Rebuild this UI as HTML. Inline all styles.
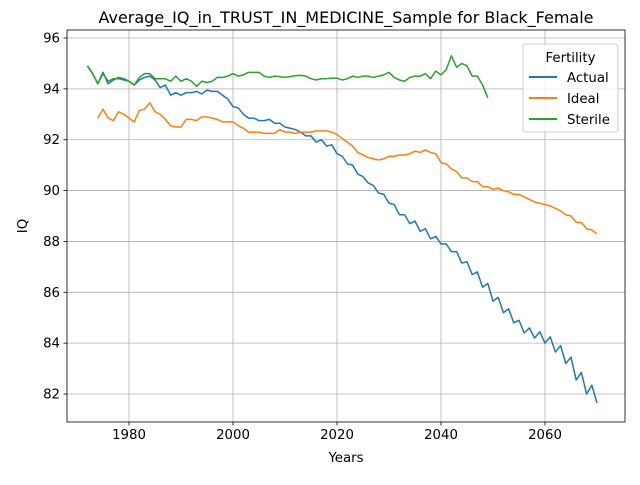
<!DOCTYPE html>
<html><head><meta charset="utf-8"><style>
body{margin:0;background:#fff;}
svg{font-family:"DejaVu Sans","Liberation Sans",sans-serif;}
</style></head><body>
<svg id="chart" width="640" height="480" xmlns="http://www.w3.org/2000/svg"></svg>
<script>
const xTicks=[1980,2000,2020,2040,2060];
const yTicks=[82,84,86,88,90,92,94,96];
const actualStart=1972;
const actual=[94.9,94.6,94.2,94.65,94.2,94.35,94.45,94.4,94.3,94.15,
94.35,94.45,94.5,94.35,94.05,94.15,93.75,93.85,93.75,93.85,
93.85,93.9,93.8,93.95,93.9,93.9,93.75,93.6,93.3,93.25,
93.0,92.85,92.85,92.75,92.75,92.8,92.65,92.65,92.5,92.45,
92.4,92.3,92.15,92.15,91.9,92.0,91.75,91.8,91.45,91.35,
91.05,91.0,90.65,90.55,90.3,90.2,89.9,89.85,89.5,89.45,
89.05,89.05,88.7,88.8,88.4,88.5,88.1,88.2,87.9,87.9,
87.6,87.6,87.15,87.2,86.7,86.8,86.2,86.35,85.65,85.8,
85.2,85.35,84.8,84.9,84.4,84.6,84.2,84.45,84.0,84.25,
83.65,83.9,83.2,83.45,82.55,82.85,82.0,82.35,81.65];
const idealStart=1974;
const ideal=[92.85,93.2,92.85,92.75,93.1,93.0,92.85,92.7,93.15,93.2,
93.45,93.1,93.0,92.8,92.55,92.5,92.5,92.8,92.8,92.75,
92.9,92.9,92.85,92.8,92.7,92.7,92.7,92.55,92.45,92.3,
92.3,92.3,92.25,92.25,92.25,92.4,92.3,92.3,92.25,92.3,
92.3,92.3,92.35,92.35,92.35,92.3,92.2,92.05,91.9,91.75,
91.5,91.4,91.3,91.25,91.2,91.25,91.35,91.35,91.4,91.4,
91.45,91.55,91.5,91.6,91.5,91.45,91.1,91.05,90.85,90.75,
90.5,90.5,90.35,90.35,90.15,90.15,90.05,90.1,90.0,89.95,
89.85,89.85,89.75,89.65,89.55,89.5,89.45,89.4,89.3,89.2,
89.05,89.0,88.75,88.75,88.5,88.45,88.3];
const sterileStart=1972;
const sterile=[94.9,94.6,94.2,94.6,94.3,94.4,94.4,94.35,94.3,94.15,
94.45,94.6,94.6,94.4,94.4,94.4,94.3,94.5,94.3,94.4,
94.3,94.1,94.3,94.25,94.3,94.45,94.45,94.5,94.6,94.5,
94.55,94.65,94.65,94.65,94.5,94.45,94.5,94.48,94.45,94.48,
94.52,94.53,94.5,94.4,94.35,94.4,94.4,94.42,94.42,94.35,
94.4,94.5,94.45,94.5,94.5,94.45,94.5,94.55,94.65,94.45,
94.35,94.3,94.45,94.5,94.5,94.6,94.4,94.7,94.55,94.75,
95.3,94.85,95.0,94.9,94.5,94.5,94.15,93.65];

const L=67,R=625,T=30,B=422;
const x=v=>129+(v-1980)*5.2;
const y=v=>38+(96-v)*25.43;
const svg=document.getElementById('chart');
const NS='http://www.w3.org/2000/svg';
function mk(tag,attrs,parent){const e=document.createElementNS(NS,tag);for(const k in attrs)e.setAttribute(k,attrs[k]);(parent||svg).appendChild(e);return e;}

const grid=mk('g',{});


xTicks.forEach(t=>{
  const l=mk('line',{x1:x(t),x2:x(t),y1:T,y2:B,stroke:'#b0b0b0','stroke-width':0.8},grid);
  
  
  mk('line',{x1:x(t),x2:x(t),y1:B,y2:B+3.5,stroke:'#000','stroke-width':0.8});
  const tx=mk('text',{x:x(t),y:B+17,'text-anchor':'middle','font-size':'13.3'});
  tx.textContent=t;
  
  
});
yTicks.forEach(t=>{
  const l=mk('line',{x1:L,x2:R,y1:y(t),y2:y(t),stroke:'#b0b0b0','stroke-width':0.8},grid);
  
  
  mk('line',{x1:L-3.5,x2:L,y1:y(t),y2:y(t),stroke:'#000','stroke-width':0.8});
  const tx=mk('text',{x:L-7,y:y(t)+4.5,'text-anchor':'end','font-size':'13.3'});
  tx.textContent=t;
  
  
});

function series(arr,start,color,name){
  const d=arr.map((v,i)=>(i?'L':'M')+x(start+i).toFixed(2)+','+y(v).toFixed(2)).join('');
  const p=mk('path',{d:d,fill:'none',stroke:color,'stroke-width':1.5,'stroke-linejoin':'round'});
  
  
}
series(actual,actualStart,'#1f77b4','actual-line');
series(ideal,idealStart,'#ff7f0e','ideal-line');
series(sterile,sterileStart,'#2ca02c','sterile-line');

const frame=mk('rect',{x:L,y:T,width:R-L,height:B-T,fill:'none',stroke:'#000','stroke-width':0.8});



const title=mk('text',{x:(L+R)/2,y:T-7,'text-anchor':'middle','font-size':'16'});
title.textContent='Average_IQ_in_TRUST_IN_MEDICINE_Sample for Black_Female';


const xt=mk('text',{x:(L+R)/2,y:462,'text-anchor':'middle','font-size':'13.3'});
xt.textContent='Years';


const yt=mk('text',{x:27,y:(T+B)/2,'text-anchor':'middle','font-size':'13.3',transform:'rotate(-90 27 '+((T+B)/2)+')'});
yt.textContent='IQ';



const lg=mk('g',{});


mk('rect',{x:523,y:44,width:95,height:88,rx:3,fill:'#fff','fill-opacity':0.8,stroke:'#ccc'},lg);
const lt=mk('text',{x:570.5,y:62,'text-anchor':'middle','font-size':'13.3'},lg);
lt.textContent='Fertility';


[['Actual','#1f77b4'],['Ideal','#ff7f0e'],['Sterile','#2ca02c']].forEach((e,i)=>{
  const gy=77+i*21;
  const g=mk('g',{},lg);
  
  
  mk('line',{x1:529,x2:557,y1:gy,y2:gy,stroke:e[1],'stroke-width':2},g);
  const t=mk('text',{x:567,y:gy+5,'font-size':'13.3'},g);
  t.textContent=e[0];
});
</script>
</body></html>
